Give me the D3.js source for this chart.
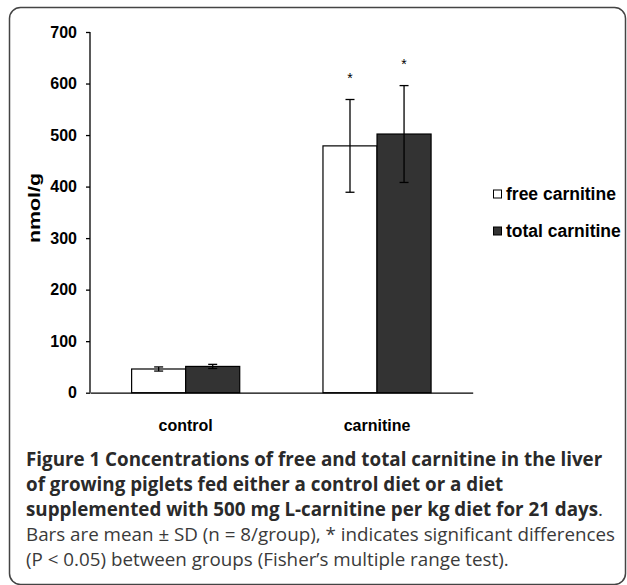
<!DOCTYPE html>
<html>
<head>
<meta charset="utf-8">
<script src="https://cdn.jsdelivr.net/npm/d3@7"></script>
<style>
  body { margin: 0; background: #fff; }
  svg { display: block; }
</style>
</head>
<body>
<svg width="627" height="585"></svg>
<script>
// data
var groups = ["control", "carnitine"];
var series = ["free carnitine", "total carnitine"];
var means = [[46, 51], [479, 502]];
var sds = [[4, 4], [90, 94]];
var signif = [[false, false], [true, true]];
var yTicks = [0, 100, 200, 300, 400, 500, 600, 700];
var fills = ["#ffffff", "#333333"];

var captionLines = [
  [{t: "Figure 1 Concentrations of free and total carnitine in the liver", b: true}],
  [{t: "of growing piglets fed either a control diet or a diet", b: true}],
  [{t: "supplemented with 500 mg L-carnitine per kg diet for 21 days", b: true}, {t: ".", b: false}],
  [{t: "Bars are mean \u00b1 SD (n = 8/group), * indicates significant differences", b: false}],
  [{t: "(P < 0.05) between groups (Fisher\u2019s multiple range test).", b: false}]
];

var data = [];
groups.forEach(function(g, i) {
  series.forEach(function(s, j) {
    data.push({group: g, key: s, k: j, mean: means[i][j], sd: sds[i][j], star: signif[i][j]});
  });
});

var svg = d3.select("svg");

// rounded frame
svg.append("rect")
    .attr("x", 9.5).attr("y", 7.5)
    .attr("width", 616).attr("height", 577)
    .attr("rx", 11).attr("ry", 11)
    .style("fill", "none")
    .style("stroke", "#444")
    .style("stroke-width", 1.5);

var plotLeft = 90, plotRight = 472.7, plotTop = 32, plotBottom = 392.7;

var y = d3.scaleLinear().domain([0, 700]).range([plotBottom, plotTop]);
var x0 = d3.scaleBand().domain(groups).range([plotLeft, plotRight]).padding(0);
var x1 = d3.scaleBand().domain(series).range([0, x0.bandwidth()])
    .paddingInner(0).paddingOuter(0.77);

var g = svg.append("g");

// y axis
var yAxis = g.append("g")
    .attr("transform", "translate(" + plotLeft + ",0)")
    .call(d3.axisLeft(y).tickValues(yTicks).tickSize(4).tickPadding(9).tickFormat(d3.format("d")));
yAxis.select(".domain").attr("d", "M0," + y(700) + "V" + y(0)).style("stroke", "#000").style("stroke-width", 1.3);
yAxis.selectAll(".tick line").style("stroke", "#000").style("stroke-width", 1.3);
yAxis.selectAll("text")
    .style("font-family", "'Liberation Sans', Arial, sans-serif")
    .style("font-weight", "bold")
    .style("font-size", "16px")
    .style("fill", "#000");

// y title (stretched along its length like the original)
g.append("text")
    .attr("transform", "translate(40,208) rotate(-90)")
    .attr("x", -35)
    .attr("textLength", 70)
    .attr("lengthAdjust", "spacingAndGlyphs")
    .style("font-family", "'Liberation Sans', Arial, sans-serif")
    .style("font-weight", "bold")
    .style("font-size", "16px")
    .text("nmol/g");

// bars
g.selectAll("rect.bar")
    .data(data)
  .enter().append("rect")
    .attr("class", "bar")
    .attr("x", function(d) { return x0(d.group) + x1(d.key); })
    .attr("y", function(d) { return y(d.mean); })
    .attr("width", x1.bandwidth())
    .attr("height", function(d) { return y(0) - y(d.mean); })
    .style("fill", function(d) { return fills[d.k]; })
    .style("stroke", "#000")
    .style("stroke-width", 1.2);

// error bars
var eb = g.selectAll("g.err")
    .data(data)
  .enter().append("g")
    .attr("class", "err")
    .attr("transform", function(d) { return "translate(" + (x0(d.group) + x1(d.key) + x1.bandwidth() / 2) + ",0)"; });
eb.append("line")
    .attr("y1", function(d) { return y(d.mean - d.sd); })
    .attr("y2", function(d) { return y(d.mean + d.sd); })
    .style("stroke", "#000").style("stroke-width", 1.3);
eb.append("line")
    .attr("x1", -4.5).attr("x2", 4.5)
    .attr("y1", function(d) { return y(d.mean + d.sd); })
    .attr("y2", function(d) { return y(d.mean + d.sd); })
    .style("stroke", "#000").style("stroke-width", 1.3);
eb.append("line")
    .attr("x1", -4.5).attr("x2", 4.5)
    .attr("y1", function(d) { return y(d.mean - d.sd); })
    .attr("y2", function(d) { return y(d.mean - d.sd); })
    .style("stroke", "#000").style("stroke-width", 1.3);
eb.filter(function(d) { return d.star; }).append("text")
    .attr("y", function(d) { return y(d.mean + d.sd) - 17; })
    .attr("text-anchor", "middle")
    .style("font-family", "'Liberation Sans', Arial, sans-serif")
    .style("font-size", "14px")
    .text("*");

// x axis
var xAxis = g.append("g")
    .attr("transform", "translate(0," + plotBottom + ")")
    .call(d3.axisBottom(x0).tickSize(0).tickPadding(27));
xAxis.select(".domain").style("stroke", "#000").style("stroke-width", 1.3);
xAxis.selectAll("text")
    .style("font-family", "'Liberation Sans', Arial, sans-serif")
    .style("font-weight", "bold")
    .style("font-size", "16px")
    .style("fill", "#000");

// legend
var legend = g.selectAll("g.leg")
    .data(series)
  .enter().append("g")
    .attr("class", "leg")
    .attr("transform", function(d, i) { return "translate(493," + (194 + i * 37) + ")"; });
legend.append("rect")
    .attr("x", 0.5).attr("y", -4)
    .attr("width", 8).attr("height", 8)
    .style("fill", function(d, i) { return fills[i]; })
    .style("stroke", "#000")
    .style("stroke-width", 1);
legend.append("text")
    .attr("x", 13).attr("y", 6)
    .style("font-family", "'Liberation Sans', Arial, sans-serif")
    .style("font-weight", "bold")
    .style("font-size", "17.5px")
    .text(function(d) { return d; });

// caption
var cap = svg.append("g");
captionLines.forEach(function(line, i) {
  var t = cap.append("text")
      .attr("x", 26)
      .attr("y", 466 + i * 25)
      .style("font-family", "'Open Sans', sans-serif")
      .style("font-size", "18.8px")
      .style("fill", "#2a2a2a");
  line.forEach(function(p) {
    t.append("tspan")
        .style("font-weight", p.b ? "bold" : "normal")
        .style("fill", p.b ? "#2a2a2a" : "#3a3a3a")
        .text(p.t);
  });
});
</script>
</body>
</html>
